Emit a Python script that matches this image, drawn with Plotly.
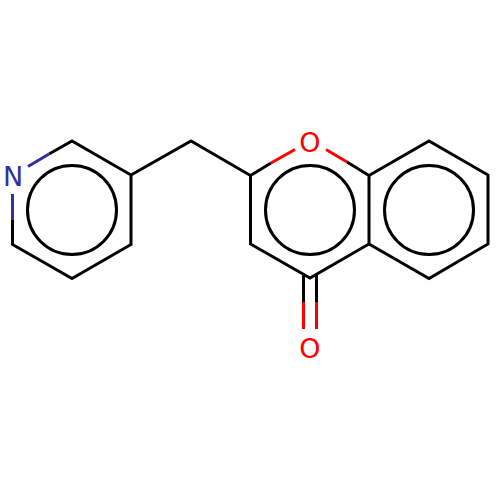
import plotly.graph_objects as go

# bond paths, None splits them
black_x = [49, 72, 131, 131, 72, 12.5, 12.5, None,
           131, 191, 250.5, 250.5, 310, 369, 369, 347, None,
           250.5, 271, None,
           369, 429, 488, 488, 429, 369, None,
           303.5, 303.5, None,
           316.5, 316.5]
black_y = [154, 141, 175, 244.5, 278.5, 244.5, 220, None,
           175, 141, 175.5, 244, 278, 244, 175.5, 162, None,
           175.5, 163, None,
           175.5, 141, 175, 244, 278.5, 244, None,
           274.5, 302, None,
           274.5, 302]

blue_x = [28, 49, None, 12.5, 12.5]
blue_y = [166.5, 154, None, 194, 220]

red_x = [271, 295, None, 326, 347, None, 303.5, 303.5, None, 316.5, 316.5]
red_y = [163, 149.5, None, 149.5, 162, None, 302, 329, None, 302, 329]

# aromatic rings
ring_x = [72, 310, 429]
ring_y = [210, 210, 210]

# atom labels
atom_x = [13, 310, 310]
atom_y = [179, 145, 351]
atom_text = ['N', 'O', 'O']
atom_colors = ['#30309f', '#ff0000', '#ff0000']

fig = go.Figure()
fig.add_trace(go.Scatter(x=black_x, y=black_y, mode='lines',
                         line=dict(color='black', width=3)))
fig.add_trace(go.Scatter(x=blue_x, y=blue_y, mode='lines',
                         line=dict(color='#30309f', width=3)))
fig.add_trace(go.Scatter(x=red_x, y=red_y, mode='lines',
                         line=dict(color='#ff0000', width=3)))
fig.add_trace(go.Scatter(x=ring_x, y=ring_y, mode='markers',
                         marker=dict(symbol='circle-open', size=89,
                                     color='black', line=dict(color='black', width=3))))
fig.add_trace(go.Scatter(x=atom_x, y=atom_y, mode='text', text=atom_text,
                         textposition='middle center',
                         textfont=dict(family='DejaVu Sans', size=27, color=atom_colors)))
fig.update_layout(width=500, height=500, margin=dict(l=0, r=0, t=0, b=0),
                  showlegend=False, plot_bgcolor='white', paper_bgcolor='white',
                  xaxis=dict(range=[0, 500], visible=False),
                  yaxis=dict(range=[500, 0], visible=False))
# the page's default body margin would shift everything by 8px
fig.write_html("out.html", config=dict(displayModeBar=False),
               post_script="document.body.style.margin = '0';")
